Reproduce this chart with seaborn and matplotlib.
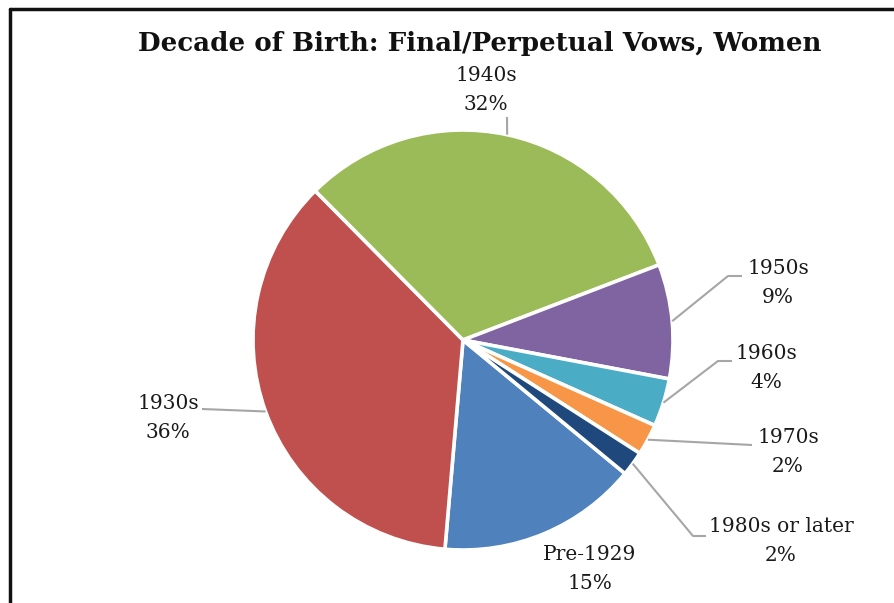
import numpy as np
import seaborn as sns
import matplotlib.pyplot as plt
from matplotlib.lines import Line2D

# data
categories = ['Pre-1929', '1930s', '1940s', '1950s', '1960s', '1970s', '1980s or later']
shares = [15.4, 36.2, 31.6, 8.8, 3.7, 2.4, 1.9]
colors = ['#4F81BD', '#C0504D', '#9BBB59', '#8064A2', '#4BACC6', '#F79646', '#1F497D']

# label layout in image pixels (x, y from top): text centre, leader knee, leader end
label_xy = [(590, 569), (168, 418), (486, 90), (778, 283), (766, 368), (788, 452), (781, 541)]
leader_pts = [None, [(202, 409)], [(507, 117)], [(728, 276), (742, 276)],
              [(718, 361), (732, 361)], [(752, 445)], [(693, 536), (706, 536)]]

W, H = 895, 603
sns.set_theme(style='white')
plt.rcParams['font.family'] = ['DejaVu Serif']

fig = plt.figure(figsize=(W / 100, H / 100), dpi=100)
ax = fig.add_axes([0, 0, 1, 1])

cx, cy, r = 463, H - 340, 210
wedges, _ = ax.pie(shares, colors=colors, startangle=90 - 129.5, counterclock=False,
                   radius=r, center=(cx, cy),
                   wedgeprops=dict(edgecolor='white', linewidth=2.6))
ax.set_xlim(0, W)
ax.set_ylim(0, H)
ax.set_aspect('equal')
ax.axis('off')

total = sum(shares)
for w, name, val, (tx, ty), pts in zip(wedges, categories, shares, label_xy, leader_pts):
    ax.text(tx, H - ty, f'{name}\n{val / total * 100:.0f}%', ha='center', va='center',
            fontsize=14.5, color='#1a1a1a', linespacing=1.62)
    if pts is None:
        continue
    mid = np.deg2rad((w.theta1 + w.theta2) / 2)
    xs = [cx + r * np.cos(mid)] + [p[0] for p in pts]
    ys = [cy + r * np.sin(mid)] + [H - p[1] for p in pts]
    ax.plot(xs, ys, color='#A6A6A6', lw=1.5, solid_capstyle='butt')

ax.text(480, H - 43, 'Decade of Birth: Final/Perpetual Vows, Women', ha='center', va='center',
        fontsize=18.8, fontweight='bold', color='#111111')

# chart border (cropped, only top and left visible)
ax.add_line(Line2D([10, W], [H - 9, H - 9], color='#111111', lw=2.5))
ax.add_line(Line2D([10, 10], [H - 9, 0], color='#111111', lw=2.5))

fig.savefig('out.png', dpi=100)
